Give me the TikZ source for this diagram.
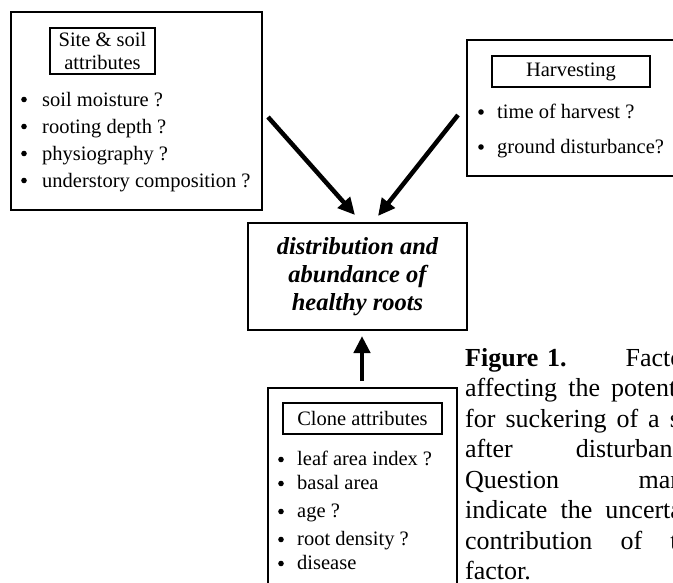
\documentclass[tikz,border=0pt]{standalone}
\usepackage{fontspec}
\setmainfont{Liberation Serif}
\usetikzlibrary{arrows.meta}

\newcommand{\capline}[1]{\leavevmode\hbox to 237pt{#1}}

\tikzset{
  outerbox/.style={draw, line width=1.1pt, inner sep=0pt},
  titlebox/.style={draw, line width=1.1pt, inner sep=0pt, align=center,
    font=\fontsize{20.5}{23}\selectfont},
  itemtext/.style={anchor=base west, inner sep=0pt, font=\fontsize{20.5}{24}\selectfont},
  bigarrow/.style={line width=4.5pt, -{Triangle[length=17pt,width=16pt]}}
}

\begin{document}
\begin{tikzpicture}[x=1pt,y=-1pt]
\useasboundingbox (0,0) rectangle (673,582);
\clip (0,0) rectangle (673,582);

% site & soil
\node[outerbox, minimum width=251pt, minimum height=198pt] (site) at (136.5,111) {};
\node[titlebox, minimum width=105pt, minimum height=46pt] (sitetitle) at (102.5,51) {Site \& soil\\attributes};
\foreach \y/\txt [count=\i] in {106/soil moisture ?, 133/rooting depth ?, 160/physiography ?, 187/understory composition ?}{
  \fill (24,\y-6.5) circle (2.8);
  \node[itemtext] (site\i) at (42,\y) {\txt};
}

% harvesting
\node[outerbox, minimum width=233pt, minimum height=136pt] (harv) at (583.5,108) {};
\node[titlebox, minimum width=158pt, minimum height=31pt] (harvtitle) at (571,71.5) {Harvesting};
\foreach \y/\txt [count=\i] in {118/time of harvest ?, 153/ground disturbance?}{
  \fill (481,\y-6) circle (2.8);
  \node[itemtext] (harv\i) at (497,\y) {\txt};
}

% roots
\node[draw, line width=1.1pt, minimum width=219pt, minimum height=107pt, align=center,
  font=\fontsize{24.5}{28}\selectfont\bfseries\itshape] (roots) at (357.5,276.5)
  {distribution and\\abundance of\\healthy roots};

% clone
\node[outerbox, minimum width=189pt, minimum height=212pt] (clone) at (362.5,494) {};
\node[titlebox, minimum width=159pt, minimum height=31pt] (clonetitle) at (362.5,418.5) {Clone attributes};
\foreach \y/\txt [count=\i] in {465/leaf area index ?, 489/basal area, 517/age ?, 545/root density ?, 569/disease}{
  \fill (281,\y-5.5) circle (2.8);
  \node[itemtext] (clone\i) at (297,\y) {\txt};
}

% arrows
\coordinate (a1) at (268,117);
\coordinate (t1) at (355,215);
\coordinate (a2) at (458,115);
\coordinate (t2) at (378,216);
\coordinate (a3) at (362,381);
\coordinate (t3) at (362,336);
\draw[bigarrow] (a1) -- (t1);
\draw[bigarrow] (a2) -- (t2);
\draw[bigarrow] (a3) -- (t3);

% caption
\node[anchor=base west, inner sep=0pt, text width=237pt, align=left,
  font=\fontsize{26}{30.5}\selectfont] (caption) at (465,366)
  {\capline{\textbf{Figure\ 1.}\hfill Factors}\\
   \capline{affecting\hfill the\hfill potential}\\
   \capline{for\hspace{10pt}suckering\hspace{10pt}of\hspace{10pt}a\hspace{10pt}stand\hss}\\
   \capline{after\hfill disturbance.}\\
   \capline{Question\hfill marks}\\
   \capline{indicate\hfill the\hfill uncertain}\\
   \capline{contribution\hfill of\hfill the}\\
   factor.};
\end{tikzpicture}
\end{document}
